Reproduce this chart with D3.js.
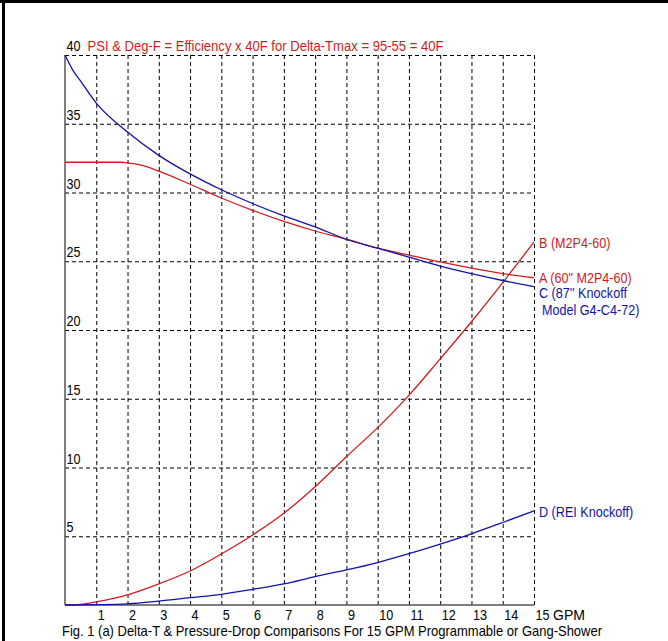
<!DOCTYPE html>
<html>
<head>
<meta charset="utf-8">
<script src="https://cdn.jsdelivr.net/npm/d3@7"></script>
<style>
  body { margin: 0; background: #fff; }
  text { font-family: "Liberation Sans", Arial, sans-serif; }
</style>
</head>
<body>
<script>
// [GPM, value]
const curveA = [[0, 32.2], [1, 32.2], [1.8, 32.2], [2, 32.15], [2.5, 31.95], [3, 31.55], [4, 30.6], [5, 29.6],
  [6, 28.7], [7, 27.9], [8, 27.2], [9, 26.6], [10, 25.95], [11, 25.45], [12, 24.95], [13, 24.5], [14, 24.1], [15, 23.8]]
const curveB = [[0, 0], [0.5, 0.05], [1, 0.23], [2, 0.73], [3, 1.53], [4, 2.47], [5, 3.71], [6, 5.09], [7, 6.67],
  [8, 8.6], [9, 10.78], [10, 12.9], [11, 15.25], [12, 17.9], [13, 20.6], [14, 23.45], [15, 26.4]]
const curveC = [[0, 40], [0.25, 38.9], [0.5, 38.1], [1, 36.5], [2, 34.4], [3, 32.7], [4, 31.35], [5, 30.2],
  [6, 29.2], [7, 28.3], [8, 27.5], [9, 26.6], [10, 25.95], [11, 25.3], [12, 24.65], [13, 24.1], [14, 23.6], [15, 23.15]]
const curveD = [[0, 0], [1, 0.02], [2, 0.08], [3, 0.28], [4, 0.53], [5, 0.78], [6, 1.14], [7, 1.53], [8, 2.07],
  [9, 2.55], [10, 3.09], [11, 3.73], [12, 4.43], [13, 5.18], [14, 6.0], [15, 6.85]]

const xTicks = [1, 2, 3, 4, 5, 6, 7, 8, 9, 10, 11, 12, 13, 14, 15]
const yTicks = [5, 10, 15, 20, 25, 30, 35, 40]

const seriesLabels = [
  { curve: curveA, color: "red", lines: ["A (60\" M2P4-60)"] },
  { curve: curveB, color: "red", lines: ["B (M2P4-60)"] },
  { curve: curveC, color: "blue", lines: ["C (87'' Knockoff", "Model G4-C4-72)"] },
  { curve: curveD, color: "blue", lines: ["D (REI Knockoff)"] }
]

const title = "PSI & Deg-F = Efficiency x 40F for Delta-Tmax = 95-55 = 40F"
const caption = "Fig. 1 (a) Delta-T & Pressure-Drop Comparisons For 15 GPM Programmable or Gang-Shower"

const colors = { red: "#d01c1c", blue: "#1212aa" }

const width = 668
const height = 641
const margin = { top: 55, left: 65, right: 134, bottom: 36 }
const fontSize = 15
const narrow = 0.84   // the original font is a condensed one

const svg = d3.select("body")
  .append("svg")
  .attr("width", width)
  .attr("height", height)

// squeeze a text node horizontally
function condense(sel, target) {
  sel.each(function() {
    const w = this.getComputedTextLength()
    d3.select(this)
      .attr("textLength", target || w * narrow)
      .attr("lengthAdjust", "spacingAndGlyphs")
  })
}

// frame edges
svg.append("rect").attr("x", 0).attr("y", 0).attr("width", width).attr("height", 3).attr("fill", "#000")
svg.append("rect").attr("x", 2).attr("y", 0).attr("width", 3).attr("height", height).attr("fill", "#000")

const xScale = d3.scaleLinear()
  .domain([0, 15])
  .range([margin.left, width - margin.right])

const yScale = d3.scaleLinear()
  .domain([0, 40])
  .range([height - margin.bottom, margin.top])

// dashed grid
svg.append("g")
  .selectAll("line")
  .data(xTicks)
  .enter()
  .append("line")
    .attr("x1", d => xScale(d) + 0.5)
    .attr("x2", d => xScale(d) + 0.5)
    .attr("y1", yScale(40))
    .attr("y2", yScale(0))
    .attr("stroke", "#000")
    .attr("stroke-dasharray", "4,3")

svg.append("g")
  .selectAll("line")
  .data(yTicks)
  .enter()
  .append("line")
    .attr("x1", xScale(0))
    .attr("x2", xScale(15))
    .attr("y1", d => yScale(d) + 0.5)
    .attr("y2", d => yScale(d) + 0.5)
    .attr("stroke", "#000")
    .attr("stroke-dasharray", "4,3")

// axes
svg.append("line")
  .attr("x1", xScale(0)).attr("x2", xScale(0))
  .attr("y1", yScale(40)).attr("y2", yScale(0))
  .attr("stroke", "#555").attr("stroke-width", 1.5)
svg.append("line")
  .attr("x1", xScale(0)).attr("x2", xScale(15))
  .attr("y1", yScale(0)).attr("y2", yScale(0))
  .attr("stroke", "#555").attr("stroke-width", 1.5)

svg.append("g")
  .selectAll("text")
  .data(yTicks)
  .enter()
  .append("text")
    .attr("x", xScale(0) + 1.5)
    .attr("y", d => yScale(d) - 4)
    .attr("font-size", fontSize)
    .attr("fill", "#000")
    .text(d => d)
    .call(condense)

svg.append("g")
  .selectAll("text")
  .data(xTicks)
  .enter()
  .append("text")
    .attr("x", d => xScale(d) + 1.5)
    .attr("y", yScale(0) + 15)
    .attr("font-size", fontSize)
    .attr("fill", "#000")
    .text(d => d)
    .call(condense)

svg.append("text")
  .attr("x", xScale(15) + 19)
  .attr("y", yScale(0) + 15)
  .attr("font-size", fontSize)
  .text("GPM")
  .call(condense, 32)

svg.append("text")
  .attr("x", xScale(0) + 22.5)
  .attr("y", yScale(40) - 4.5)
  .attr("font-size", fontSize)
  .attr("fill", colors.red)
  .text(title)
  .call(condense, 356)

svg.append("text")
  .attr("x", 62)
  .attr("y", 636)
  .attr("font-size", 14.5)
  .attr("fill", "#000")
  .text(caption)
  .call(condense, 540)

const line = d3.line()
  .x(d => xScale(d[0]))
  .y(d => yScale(d[1]))
  .curve(d3.curveMonotoneX)

svg.append("g")
  .selectAll("path")
  .data(seriesLabels)
  .enter()
  .append("path")
    .attr("d", d => line(d.curve))
    .attr("fill", "none")
    .attr("stroke", d => colors[d.color])
    .attr("stroke-width", 1.3)

// labels at the right end of each curve
const labelOffset = { "A (60\" M2P4-60)": 5, "B (M2P4-60)": 6, "C (87'' Knockoff": 11, "D (REI Knockoff)": 6 }

seriesLabels.forEach(s => {
  const last = s.curve[s.curve.length - 1]
  const y0 = yScale(last[1]) + labelOffset[s.lines[0]]
  s.lines.forEach((t, i) => {
    svg.append("text")
      .attr("x", xScale(15) + 5 + (i > 0 ? 3 : 0))
      .attr("y", y0 + i * 17)
      .attr("font-size", fontSize)
      .attr("fill", colors[s.color])
      .text(t)
      .call(condense)
  })
})
</script>
</body>
</html>
